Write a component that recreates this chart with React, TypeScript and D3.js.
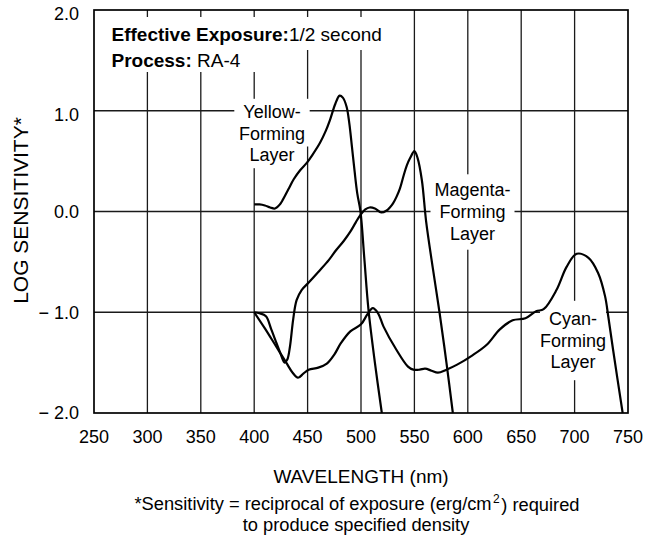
import React, { useEffect, useRef } from "react";
import * as d3 from "d3";

const xTicks = [250, 300, 350, 400, 450, 500, 550, 600, 650, 700, 750];
const yTicks = [2, 1, 0, -1, -2];
const yTickLabels = ["2.0", "1.0", "0.0", "\u2212 1.0", "\u2212 2.0"];

const yellowWl = [400, 405, 410, 415, 419.5, 424, 427, 432, 437, 443, 449, 455, 461.5, 467, 471, 476, 480, 483, 486.5, 489, 491.5, 494, 496.5, 499.5, 503, 507, 513, 519.5];
const yellowLog = [0.07, 0.07, 0.06, 0.04, 0.03, 0.07, 0.12, 0.22, 0.32, 0.41, 0.48, 0.57, 0.68, 0.8, 0.91, 1.07, 1.15, 1.13, 1.04, 0.88, 0.645, 0.4, 0.18, 0.0, -0.45, -0.975, -1.5, -2.0];

const magentaWl = [400, 405, 411, 416, 421, 425, 428.5, 431, 433.5, 436.5, 439.7, 444.4, 450.6, 460, 470, 477, 484, 490, 495, 499, 504, 508, 513, 519, 524, 527, 530, 533, 536.5, 540, 543, 546, 550, 553, 557, 561, 567.5, 573.5, 580, 586];
const magentaLog = [-1.0, -1.01, -1.04, -1.17, -1.31, -1.42, -1.5, -1.47, -1.34, -1.07, -0.88, -0.78, -0.71, -0.6, -0.48, -0.38, -0.29, -0.2, -0.11, -0.04, 0.02, 0.04, 0.03, -0.01, 0.01, 0.04, 0.08, 0.14, 0.23, 0.36, 0.46, 0.53, 0.6, 0.53, 0.31, -0.1, -0.58, -1.0, -1.5, -2.0];

const cyanWl = [400, 410, 420, 430, 436, 441, 446, 451, 460, 468, 475, 481, 490, 500, 506, 511, 516, 521, 533, 544, 549, 555, 560, 566, 572, 580, 590, 604, 618, 630, 642, 654, 664, 671, 683, 692.5, 702, 713, 722, 728.5, 731.5, 736, 745];
const cyanLog = [-1.0, -1.16, -1.33, -1.5, -1.6, -1.65, -1.61, -1.57, -1.55, -1.51, -1.42, -1.31, -1.19, -1.12, -1.02, -0.96, -1.01, -1.14, -1.37, -1.54, -1.57, -1.57, -1.56, -1.58, -1.6, -1.57, -1.52, -1.43, -1.32, -1.17, -1.08, -1.06, -0.99, -0.97, -0.78, -0.55, -0.42, -0.46, -0.61, -0.84, -1.04, -1.37, -2.0];

const headerBold = ["Effective Exposure:", "Process: "];
const headerValue = ["1/2 second", "RA-4"];
const yellowLabel = ["Yellow-", "Forming", "Layer"];
const magentaLabel = ["Magenta-", "Forming", "Layer"];
const cyanLabel = ["Cyan-", "Forming", "Layer"];

const FONT = "'Liberation Sans', Arial, Helvetica, sans-serif";

export default function App() {
  const ref = useRef<SVGSVGElement | null>(null);

  useEffect(() => {
    const svg = d3.select(ref.current);
    svg.selectAll("*").remove();

    const left = 94, right = 628, top = 10, bottom = 413;
    const x = d3.scaleLinear().domain([250, 750]).range([left, right]);
    const y = d3.scaleLinear().domain([-2, 2]).range([bottom, top]);

    const g = svg.append("g");

    // grid
    g.selectAll("line.vg")
      .data(xTicks.slice(1, -1))
      .enter()
      .append("line")
      .attr("x1", (d) => x(d))
      .attr("x2", (d) => x(d))
      .attr("y1", top)
      .attr("y2", bottom)
      .attr("stroke", "#1a1a1a")
      .attr("stroke-width", 1.3);
    g.selectAll("line.hg")
      .data(yTicks.slice(1, -1))
      .enter()
      .append("line")
      .attr("x1", left)
      .attr("x2", right)
      .attr("y1", (d) => y(d))
      .attr("y2", (d) => y(d))
      .attr("stroke", "#1a1a1a")
      .attr("stroke-width", 1.3);

    // labels with white boxes (all boxes behind all text lines)
    const boxLabel = (lines: string[], cx: number, cy0: number, dy: number, padX: number, padY: number) => {
      const grp = g.append("g");
      const boxes = grp.append("g");
      const texts = grp.append("g");
      lines.forEach((t, i) => {
        const txt = texts
          .append("text")
          .attr("x", cx)
          .attr("y", cy0 + i * dy)
          .attr("text-anchor", "middle")
          .attr("dy", "0.35em")
          .attr("font-family", FONT)
          .attr("font-size", 18)
          .attr("fill", "#000")
          .text(t);
        const bb = (txt.node() as SVGTextElement).getBBox();
        boxes
          .append("rect")
          .attr("x", bb.x - padX)
          .attr("y", bb.y - padY)
          .attr("width", bb.width + 2 * padX)
          .attr("height", bb.height + 2 * padY)
          .attr("fill", "#fff");
      });
    };

    // header boxes
    g.append("rect").attr("x", 100).attr("y", 17).attr("width", 292).attr("height", 33).attr("fill", "#fff");
    g.append("rect").attr("x", 100).attr("y", 49).attr("width", 162).attr("height", 23).attr("fill", "#fff");
    const hx = 111.5;
    const hy = [41, 67];
    headerBold.forEach((b, i) => {
      const txt = g
        .append("text")
        .attr("x", hx)
        .attr("y", hy[i])
        .attr("font-family", FONT)
        .attr("font-size", 19)
        .attr("fill", "#000");
      txt.append("tspan").attr("font-weight", "bold").text(b);
      txt.append("tspan").text(headerValue[i]);
    });

    boxLabel(yellowLabel, 272, 111.5, 21.7, 9, 3);
    boxLabel(magentaLabel, 472.5, 190, 21.7, 9, 6);
    boxLabel(cyanLabel, 573, 318.5, 21.7, 9, 8);

    // curves
    const line = d3
      .line<[number, number]>()
      .x((d) => x(d[0]))
      .y((d) => y(d[1]))
      .curve(d3.curveCatmullRom.alpha(0.5));
    const series: [number[], number[]][] = [
      [yellowWl, yellowLog],
      [magentaWl, magentaLog],
      [cyanWl, cyanLog],
    ];
    series.forEach(([wl, v]) => {
      const pts = wl.map((w, i) => [w, v[i]] as [number, number]);
      g.append("path")
        .attr("d", line(pts) as string)
        .attr("fill", "none")
        .attr("stroke", "#000")
        .attr("stroke-width", 2.2)
        .attr("stroke-linejoin", "round");
    });

    // border
    g.append("rect")
      .attr("x", left)
      .attr("y", top)
      .attr("width", right - left)
      .attr("height", bottom - top)
      .attr("fill", "none")
      .attr("stroke", "#000")
      .attr("stroke-width", 1.7);

    // tick labels
    g.selectAll("text.xt")
      .data(xTicks)
      .enter()
      .append("text")
      .attr("x", (d) => x(d))
      .attr("y", 437)
      .attr("dy", "0.35em")
      .attr("text-anchor", "middle")
      .attr("font-family", FONT)
      .attr("font-size", 18)
      .text((d) => String(d));
    g.selectAll("text.yt")
      .data(yTicks)
      .enter()
      .append("text")
      .attr("x", 79)
      .attr("y", (d) => y(d) + (d > 0 ? 4 : 0))
      .attr("dy", "0.35em")
      .attr("text-anchor", "end")
      .attr("font-family", FONT)
      .attr("font-size", 18)
      .text((d, i) => yTickLabels[i]);

    // axis titles
    g.append("text")
      .attr("x", 361)
      .attr("y", 476)
      .attr("dy", "0.35em")
      .attr("text-anchor", "middle")
      .attr("font-family", FONT)
      .attr("font-size", 19)
      .text("WAVELENGTH (nm)");
    g.append("text")
      .attr("transform", "translate(21,210.5) rotate(-90)")
      .attr("dy", "0.35em")
      .attr("text-anchor", "middle")
      .attr("font-family", FONT)
      .attr("font-size", 21)
      .text("LOG SENSITIVITY*");

    // footnote
    const fn = g
      .append("text")
      .attr("x", 357)
      .attr("y", 504)
      .attr("dy", "0.35em")
      .attr("text-anchor", "middle")
      .attr("font-family", FONT)
      .attr("font-size", 18.3);
    fn.append("tspan").text("*Sensitivity = reciprocal of exposure (erg/cm");
    fn.append("tspan").attr("font-size", 12).attr("dx", 1.5).attr("dy", "-0.6em").text("2");
    fn.append("tspan").attr("dx", 1.5).attr("dy", "0.4em").text(") required");
    g.append("text")
      .attr("x", 356)
      .attr("y", 525)
      .attr("dy", "0.35em")
      .attr("text-anchor", "middle")
      .attr("font-family", FONT)
      .attr("font-size", 18.3)
      .text("to produce specified density");
  }, []);

  return (
    <svg
      ref={ref}
      width={645}
      height={541}
      style={{ position: "absolute", left: 0, top: 0, background: "#fff" }}
    />
  );
}
